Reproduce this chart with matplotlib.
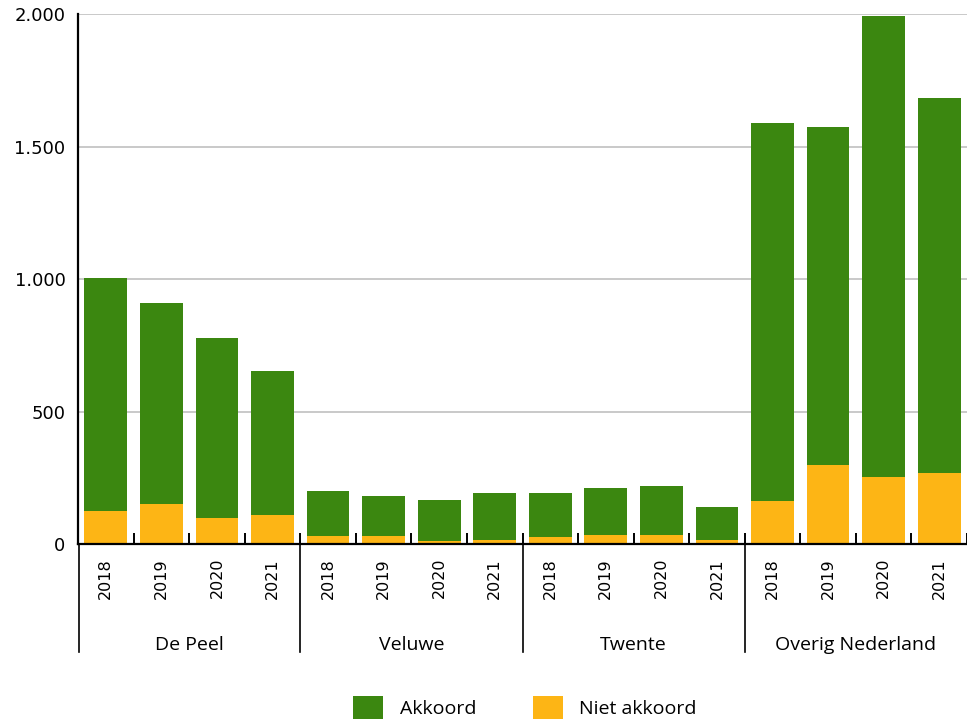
"""Gestapelde staven: akkoord / niet akkoord per gebied en jaar."""
import matplotlib
matplotlib.use("Agg")
import matplotlib.pyplot as plt
import numpy as np

GROUPS = ["De Peel", "Veluwe", "Twente", "Overig Nederland"]
YEARS = ["2018", "2019", "2020", "2021"]

# per gebied 4 jaren, achter elkaar
AKKOORD = [880, 759, 679, 544,
           170, 151, 155, 178,
           166, 177, 185, 125,
           1428, 1277, 1739, 1417]
NIET_AKKOORD = [124, 151, 98, 109,
                31, 31, 12, 16,
                28, 35, 35, 16,
                162, 298, 252, 267]

GREEN = "#3b8710"
YELLOW = "#fdb515"
TEXT_FONT = ["Open Sans", "DejaVu Sans"]


def main() -> None:
    n = len(AKKOORD)
    x = np.arange(n)
    akk = np.array(AKKOORD)
    niet = np.array(NIET_AKKOORD)

    fig = plt.figure(figsize=(9.67, 7.27), dpi=100)
    ax = fig.add_axes([0.0807, 0.2517, 0.9193, 0.729])

    ax.bar(x, niet, width=0.77, color=YELLOW, label="Niet akkoord", zorder=2)
    ax.bar(x, akk, width=0.77, bottom=niet, color=GREEN, label="Akkoord", zorder=2)

    xl = -0.49
    ax.set_xlim(xl, n - 1 + 0.385)
    ax.set_ylim(0, 2000)
    ax.set_yticks(np.arange(0, 2001, 500))
    ax.set_yticklabels([f"{v:,}".replace(",", ".") for v in range(0, 2001, 500)])
    ax.yaxis.grid(True, color="#bbbbbb", linewidth=1.1)
    ax.set_axisbelow(True)

    for side in ("top", "right"):
        ax.spines[side].set_visible(False)
    for side in ("left", "bottom"):
        ax.spines[side].set_linewidth(1.6)
        ax.spines[side].set_color("black")

    ax.set_xticks(x)
    ax.set_xticklabels(YEARS * len(GROUPS), rotation=90, fontsize=11.5, family="DejaVu Sans")
    ax.set_xticks(np.arange(-0.5, n, 1), minor=True)
    ax.tick_params(axis="x", which="major", length=0, pad=10)
    ax.tick_params(axis="x", which="minor", direction="in", length=8, width=1.4)
    ax.tick_params(axis="y", length=0, pad=9, labelsize=13)

    # scheidingslijnen tussen de gebieden
    trans = ax.get_xaxis_transform()
    for sep in [xl, 3.5, 7.5, 11.5]:
        ax.plot([sep, sep], [0, -0.204], transform=trans, color="black",
                linewidth=1.2, clip_on=False)
    for i, name in enumerate(GROUPS):
        ax.text(i * 4 + 1.5, -0.19, name, transform=trans, ha="center", va="center",
                fontsize=14, family=TEXT_FONT)

    handles, labels = ax.get_legend_handles_labels()
    fig.legend(handles[::-1], labels[::-1], loc="center", bbox_to_anchor=(0.543, 0.027),
               ncol=2, frameon=False, prop={"family": TEXT_FONT, "size": 14},
               handlelength=1.55, handleheight=1.4, handletextpad=0.85,
               columnspacing=2.9)

    fig.savefig("out.png", dpi=100)
    plt.close(fig)


if __name__ == "__main__":
    main()
